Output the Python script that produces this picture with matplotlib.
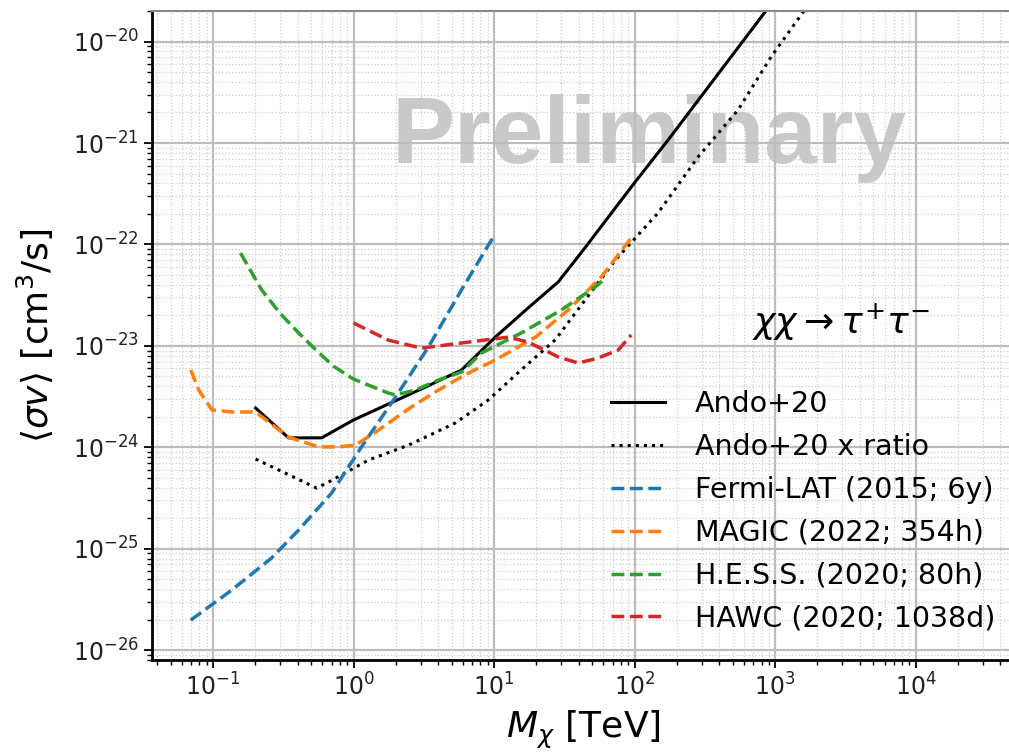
import numpy as np
import matplotlib
matplotlib.use("Agg")
import matplotlib.pyplot as plt
from matplotlib.ticker import LogLocator, NullFormatter

# Ando+20 limit (solid) and its rescaled version (dotted)
ando_x = [0.201, 0.345, 0.593, 1.0, 3.25, 5.86, 10.2, 17.5, 28.6, 41.7, 101, 173, 848, 3000]
ando_y = [2.44e-24, 1.24e-24, 1.24e-24, 1.86e-24, 3.93e-24, 5.78e-24, 1.22e-23, 2.37e-23,
          4.27e-23, 8.3e-23, 4.14e-22, 1.07e-21, 1.96e-20, 1.9e-19]

ratio_x = [0.201, 0.546, 0.665, 1.28, 2.46, 5.31, 9.1, 15.6, 27.3, 44.5, 72.8, 147, 283, 545, 935,
           1528, 3000]
ratio_y = [7.67e-25, 3.97e-25, 4.55e-25, 7.5e-25, 1.05e-24, 1.74e-24, 2.93e-24, 5.8e-24, 1.15e-23,
           2.84e-23, 7.0e-23, 2.05e-22, 7.3e-22, 2.12e-21, 7.06e-21, 1.83e-20, 6.8e-20]

fermi_x = [0.0695, 0.136, 0.261, 0.407, 0.698, 1.14, 1.99, 3.41, 5.86, 9.89]
fermi_y = [1.98e-26, 3.92e-26, 8.1e-26, 1.53e-25, 3.54e-25, 1.01e-24, 3.13e-24, 9.75e-24,
           3.56e-23, 1.19e-22]

magic_x = [0.0695, 0.0791, 0.0983, 0.136, 0.201, 0.345, 0.564, 0.782, 1.03, 1.51, 2.58, 4.02,
           6.57, 10.2, 19.7, 33.7, 57.9, 94.6]
magic_y = [5.8e-24, 3.68e-24, 2.34e-24, 2.23e-24, 2.23e-24, 1.26e-24, 1.01e-24, 1.01e-24, 1.05e-24,
           1.48e-24, 2.5e-24, 3.67e-24, 5.4e-24, 7.26e-24, 1.22e-23, 2.26e-23, 4.78e-23, 1.16e-22]

hess_x = [0.157, 0.222, 0.3, 0.407, 0.55, 0.721, 1.0, 1.77, 1.99, 2.76, 4.02, 5.86, 8.13, 15.6,
          30.1, 52.5, 60.0]
hess_y = [8.24e-23, 3.56e-23, 2.1e-23, 1.34e-23, 8.9e-24, 6.3e-24, 4.7e-24, 3.43e-24, 3.28e-24,
          3.67e-24, 4.61e-24, 5.52e-24, 8.5e-24, 1.34e-23, 2.26e-23, 3.81e-23, 4.47e-23]

hawc_x = [1.0, 1.77, 3.04, 6.57, 12.6, 17.5, 28.6, 39.7, 55.1, 76.4, 94.6]
hawc_y = [1.68e-23, 1.14e-23, 9.5e-24, 1.09e-23, 1.22e-23, 1.09e-23, 7.8e-24, 6.77e-24, 7.6e-24,
          9.1e-24, 1.28e-23]

fig = plt.figure(figsize=(10.09, 7.52), dpi=100)
ax = fig.add_axes([0.1506, 0.1223, 0.8543, 0.8630])

ax.plot(ando_x, ando_y, color="black", lw=2.2, label="Ando+20")
ax.plot(ratio_x, ratio_y, color="black", lw=2.2, ls=":", label="Ando+20 x ratio")
ax.plot(fermi_x, fermi_y, color="C0", lw=2.5, ls="--", label="Fermi-LAT (2015; 6y)")
ax.plot(magic_x, magic_y, color="C1", lw=2.5, ls="--", label="MAGIC (2022; 354h)")
ax.plot(hess_x, hess_y, color="C2", lw=2.5, ls="--", label="H.E.S.S. (2020; 80h)")
ax.plot(hawc_x, hawc_y, color="C3", lw=2.5, ls="--", label="HAWC (2020; 1038d)")

ax.set_xscale("log")
ax.set_yscale("log")
ax.set_xlim(0.0368, 5.0e4)
ax.set_ylim(8e-27, 2e-20)

for axis in (ax.xaxis, ax.yaxis):
    axis.set_major_locator(LogLocator(base=10, numticks=100))
    axis.set_minor_locator(LogLocator(base=10, subs=np.arange(2, 10), numticks=100))
    axis.set_minor_formatter(NullFormatter())

ax.grid(which="major", color="#bdbdbd", lw=1.6)
ax.grid(which="minor", color="#cccccc", lw=0.9, ls=":")
ax.set_axisbelow(True)

ax.tick_params(which="major", labelsize=17, labelcolor="#222222", length=6, width=1.3)
ax.tick_params(which="minor", length=3.5, width=1.0)
ax.spines["left"].set_linewidth(2)
ax.spines["bottom"].set_linewidth(2)
ax.spines["top"].set_color("#888888")
ax.spines["top"].set_linewidth(1.5)

ax.set_xlabel(r"$M_\chi$ [TeV]", fontsize=26, labelpad=6)
ax.set_ylabel(r"$\langle\sigma v\rangle$ [cm$^3$/s]", fontsize=26, labelpad=12)

ax.text(0.278, 0.766, "Preliminary", transform=ax.transAxes, fontsize=68,
        family="Liberation Sans", weight="bold", color="gray", alpha=0.42,
        ha="left", va="baseline", zorder=0.5)
ax.text(0.80, 0.52, r"$\chi\chi \rightarrow \tau^{+}\tau^{-}$", transform=ax.transAxes,
        fontsize=26, ha="center", va="center")

ax.legend(loc="lower right", fontsize=20.5, frameon=False, handlelength=1.9,
          handletextpad=1.05, labelspacing=0.52, bbox_to_anchor=(1.008, 0.003))

fig.savefig("out.png", dpi=100)
